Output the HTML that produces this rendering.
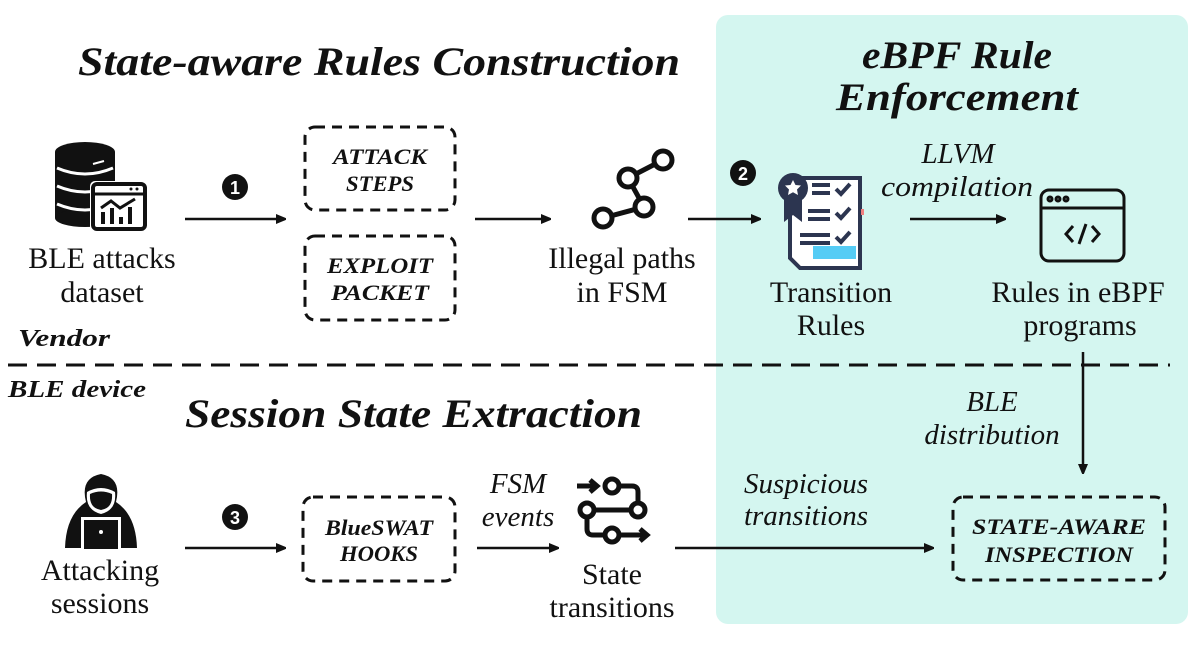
<!DOCTYPE html>
<html><head><meta charset="utf-8"><style>
html,body{margin:0;padding:0;background:#fff;}
svg{display:block;}
text{font-family:"Liberation Serif",serif;fill:#111;}
.t{font-size:30px;}
.b{font-weight:bold;font-style:italic;}
.i{font-style:italic;font-size:29px;}
</style></head><body>
<svg width="1196" height="658" viewBox="0 0 1196 658" xmlns="http://www.w3.org/2000/svg">
<defs>
<marker id="a" markerWidth="10" markerHeight="10" refX="9" refY="5" orient="auto" markerUnits="userSpaceOnUse"><path d="M0,0 L12,5 L0,10 z" fill="#111"/></marker>
</defs>
<rect x="716" y="15" width="472" height="609" rx="12" fill="#d4f6f0"/>
<!-- titles -->
<text x="78" y="75" class="b" font-size="40" textLength="602" lengthAdjust="spacingAndGlyphs">State-aware Rules Construction</text>
<text x="862" y="68" class="b" font-size="39" textLength="190" lengthAdjust="spacingAndGlyphs">eBPF Rule</text>
<text x="836" y="110" class="b" font-size="39" textLength="242" lengthAdjust="spacingAndGlyphs">Enforcement</text>
<text x="185" y="427" class="b" font-size="40" textLength="457" lengthAdjust="spacingAndGlyphs">Session State Extraction</text>
<text x="18" y="346" class="b" font-size="24" textLength="92" lengthAdjust="spacingAndGlyphs">Vendor</text>
<text x="8" y="397" class="b" font-size="24" textLength="138" lengthAdjust="spacingAndGlyphs">BLE device</text>
<line x1="8" y1="365" x2="1170" y2="365" stroke="#111" stroke-width="3" stroke-dasharray="19,10"/>
<!-- DB icon -->
<g>
<ellipse cx="85" cy="152" rx="30" ry="10" fill="#111"/>
<rect x="55" y="152" width="60" height="66" fill="#111"/>
<ellipse cx="85" cy="218" rx="30" ry="9" fill="#111"/>
<path d="M57,168 Q85,180 113,168" stroke="#fff" stroke-width="3" fill="none"/>
<path d="M57,186 Q85,198 113,186" stroke="#fff" stroke-width="3" fill="none"/>
<path d="M57,204 Q85,216 113,204" stroke="#fff" stroke-width="3" fill="none"/>
<line x1="93" y1="164" x2="104" y2="161" stroke="#fff" stroke-width="2"/>
<rect x="90" y="181" width="58" height="51" rx="5" fill="#fff"/>
<rect x="93" y="184" width="52" height="45" rx="4" fill="#fff" stroke="#111" stroke-width="4"/>
<line x1="93" y1="194" x2="145" y2="194" stroke="#111" stroke-width="3"/>
<circle cx="131" cy="189" r="1.5" fill="#111"/><circle cx="137" cy="189" r="1.5" fill="#111"/>
<polyline points="101,208 111,201 120,208 135,199" stroke="#111" stroke-width="3" fill="none"/>
<rect x="101" y="212" width="4" height="12" fill="#111"/><rect x="110" y="208" width="4" height="16" fill="#111"/><rect x="119" y="217" width="4" height="7" fill="#111"/><rect x="128" y="207" width="4" height="17" fill="#111"/>
</g>
<text x="102" y="268" class="t" text-anchor="middle">BLE attacks</text>
<text x="102" y="302" class="t" text-anchor="middle">dataset</text>
<!-- numbers -->
<circle cx="235" cy="187" r="13" fill="#111"/><text x="235" y="194" font-size="18" font-weight="bold" text-anchor="middle" style="fill:#fff;font-family:'Liberation Sans',sans-serif">1</text>
<circle cx="743" cy="173" r="13" fill="#111"/><text x="743" y="180" font-size="18" font-weight="bold" text-anchor="middle" style="fill:#fff;font-family:'Liberation Sans',sans-serif">2</text>
<circle cx="235" cy="517" r="13" fill="#111"/><text x="235" y="524" font-size="18" font-weight="bold" text-anchor="middle" style="fill:#fff;font-family:'Liberation Sans',sans-serif">3</text>
<!-- arrows -->
<g stroke="#111" stroke-width="2.5" fill="none" marker-end="url(#a)">
<line x1="185" y1="219" x2="285" y2="219"/>
<line x1="475" y1="219" x2="550" y2="219"/>
<line x1="688" y1="219" x2="760" y2="219"/>
<line x1="910" y1="219" x2="1005" y2="219"/>
<line x1="1083" y1="352" x2="1083" y2="473"/>
<line x1="185" y1="548" x2="285" y2="548"/>
<line x1="477" y1="548" x2="558" y2="548"/>
<line x1="675" y1="548" x2="933" y2="548"/>
</g>
<!-- dashed boxes -->
<g stroke="#111" stroke-width="3" fill="none" stroke-dasharray="10,7">
<rect x="305" y="127" width="150" height="83" rx="10"/>
<rect x="305" y="236" width="150" height="84" rx="10"/>
<rect x="303" y="497" width="152" height="84" rx="10"/>
<rect x="953" y="497" width="212" height="83" rx="10"/>
</g>
<g font-size="22" text-anchor="middle">
<text x="380" y="164" class="b" textLength="94" lengthAdjust="spacingAndGlyphs">ATTACK</text><text x="380" y="191" class="b" textLength="68" lengthAdjust="spacingAndGlyphs">STEPS</text>
<text x="380" y="273" class="b" textLength="106" lengthAdjust="spacingAndGlyphs">EXPLOIT</text><text x="380" y="300" class="b" textLength="98" lengthAdjust="spacingAndGlyphs">PACKET</text>
<text x="379" y="535" class="b" textLength="108" lengthAdjust="spacingAndGlyphs">BlueSWAT</text><text x="379" y="561" class="b" textLength="78" lengthAdjust="spacingAndGlyphs">HOOKS</text>
<text x="1059" y="534" class="b" textLength="174" lengthAdjust="spacingAndGlyphs">STATE-AWARE</text><text x="1059" y="562" class="b" textLength="148" lengthAdjust="spacingAndGlyphs">INSPECTION</text>
</g>
<!-- graph icon -->
<g stroke="#111" stroke-width="5" fill="#fff">
<polyline points="663,160 628,178 644,207 603,218" fill="none"/>
<circle cx="663" cy="160" r="9"/><circle cx="628" cy="178" r="9"/><circle cx="644" cy="207" r="9"/><circle cx="603" cy="218" r="9"/>
</g>
<text x="622" y="268" class="t" text-anchor="middle">Illegal paths</text>
<text x="622" y="302" class="t" text-anchor="middle">in FSM</text>
<!-- transition rules icon -->
<g>
<path d="M790,178 L860,178 L860,268 L800,268 L790,258 Z" fill="#fff" stroke="#2c3550" stroke-width="4"/>
<circle cx="793" cy="188" r="15" fill="#2c3550"/>
<path d="M793,180 l2.5,5 5.5,.5 -4,4 1,5.5 -5,-2.7 -5,2.7 1,-5.5 -4,-4 5.5,-.5z" fill="#fff"/>
<path d="M784,200 L784,222 L793,215 L802,222 L802,200 Z" fill="#2c3550"/>
<g stroke="#2c3550" stroke-width="4" fill="none">
<line x1="812" y1="185" x2="830" y2="185"/><line x1="812" y1="193" x2="830" y2="193"/>
<line x1="808" y1="211" x2="830" y2="211"/><line x1="808" y1="219" x2="830" y2="219"/>
<line x1="800" y1="235" x2="830" y2="235"/><line x1="800" y1="243" x2="830" y2="243"/>
<polyline points="836,189 841,194 850,184"/><polyline points="836,213 841,218 850,208"/><polyline points="836,237 841,242 850,232"/>
</g>
<rect x="813" y="246" width="43" height="13" fill="#55ccf5"/>
<rect x="861" y="209" width="3" height="6" fill="#f08080"/>
</g>
<text x="831" y="302" class="t" text-anchor="middle">Transition</text>
<text x="831" y="335" class="t" text-anchor="middle">Rules</text>
<text x="958" y="163" class="i" text-anchor="middle">LLVM</text>
<text x="957" y="196" class="i" text-anchor="middle" textLength="152" lengthAdjust="spacingAndGlyphs">compilation</text>
<!-- code window icon -->
<g stroke="#111" stroke-width="3" fill="none">
<rect x="1041" y="190" width="83" height="71" rx="8"/>
<line x1="1041" y1="208" x2="1124" y2="208"/>
<circle cx="1050" cy="199" r="2"/><circle cx="1058" cy="199" r="2"/><circle cx="1066" cy="199" r="2"/>
<polyline points="1073,226 1066,234 1073,242"/><polyline points="1092,226 1099,234 1092,242"/><line x1="1086" y1="224" x2="1079" y2="244"/>
</g>
<text x="1078" y="302" class="t" text-anchor="middle">Rules in eBPF</text>
<text x="1080" y="335" class="t" text-anchor="middle">programs</text>
<text x="992" y="411" class="i" text-anchor="middle">BLE</text>
<text x="992" y="444" class="i" text-anchor="middle">distribution</text>
<text x="806" y="493" class="i" text-anchor="middle">Suspicious</text>
<text x="806" y="525" class="i" text-anchor="middle">transitions</text>
<!-- hacker icon -->
<g>
<path d="M65,548 Q66,515 86,502 Q80,478 101,474 Q122,478 116,502 Q136,515 137,548 Z" fill="#111"/>
<path d="M87,492 Q101,484 115,492 Q117,510 101,514 Q85,510 87,492 Z" fill="#fff"/>
<path d="M90,494 Q101,489 112,494 Q113,508 101,510 Q89,508 90,494 Z" fill="#111"/>
<rect x="81" y="517" width="40" height="32" fill="#fff"/>
<rect x="84" y="520" width="34" height="29" fill="#111"/>
<circle cx="101" cy="532" r="2" fill="#fff"/>
</g>
<text x="100" y="580" class="t" text-anchor="middle">Attacking</text>
<text x="100" y="613" class="t" text-anchor="middle">sessions</text>
<text x="518" y="493" class="i" text-anchor="middle">FSM</text>
<text x="518" y="526" class="i" text-anchor="middle">events</text>
<!-- state transitions icon -->
<g stroke="#111" stroke-width="5" fill="none">
<line x1="577" y1="486" x2="594" y2="486"/><path d="M590,480 l7,6 -7,6" />
<circle cx="612" cy="486" r="7"/>
<path d="M619,486 L632,486 Q638,486 638,492 L638,503"/>
<circle cx="638" cy="510" r="7"/>
<line x1="631" y1="510" x2="594" y2="510"/>
<circle cx="587" cy="510" r="7"/>
<path d="M587,517 L587,529 Q587,535 593,535 L605,535"/>
<circle cx="612" cy="535" r="7"/>
<line x1="619" y1="535" x2="644" y2="535"/><path d="M640,529 l7,6 -7,6"/>
</g>
<text x="612" y="584" class="t" text-anchor="middle">State</text>
<text x="612" y="617" class="t" text-anchor="middle">transitions</text>
</svg>
</body></html>
